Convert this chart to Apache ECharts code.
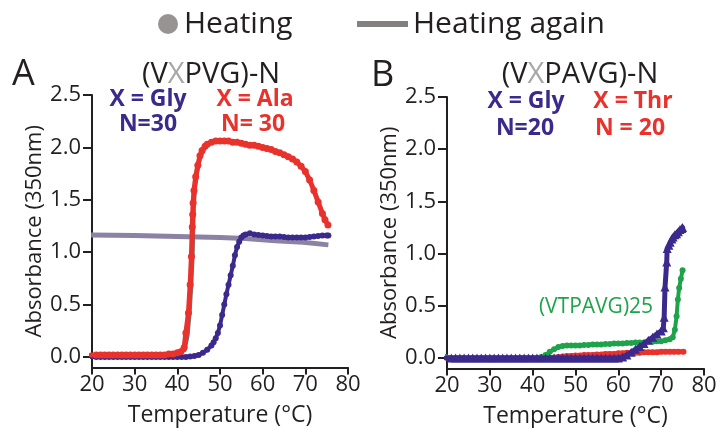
<!DOCTYPE html>
<html>
<head>
<meta charset="utf-8">
<script src="https://cdn.jsdelivr.net/npm/echarts@6/dist/echarts.min.js"></script>
<style>
  html, body { margin: 0; padding: 0; background: #ffffff; }
  #chart { width: 721px; height: 428px; }
</style>
</head>
<body>
<div id="chart"></div>
<script>
// Turbidity (absorbance at 350 nm) versus temperature, [°C, A350] pairs.

// Panel A: (VXPVG)-N
const alaN30Heating = [
  [19.8,0.02],[21,0.02],[22,0.02],[23,0.02],[24,0.02],[25,0.02],[26,0.02],[27,0.02],[28,0.02],[29,0.02],
  [30,0.02],[31,0.02],[32,0.02],[33,0.02],[34,0.02],[35,0.02],[36,0.02],[37,0.02],[38,0.03],[39,0.03],
  [40,0.04],[40.8,0.05],[41.6,0.09],[42.0,0.23],[42.6,0.42],[43.0,0.69],[43.3,0.96],[43.5,1.24],[43.6,1.36],
  [43.7,1.47],[43.9,1.59],[44.3,1.72],[44.8,1.83],[45.3,1.92],[45.8,1.97],[46.5,2.01],[47,2.03],[48,2.05],
  [49,2.06],[50,2.06],[51,2.06],[52,2.06],[53,2.05],[54,2.05],[55,2.04],[56,2.03],[57,2.02],[58,2.02],
  [59,2.01],[60,2.0],[61,1.99],[62,1.98],[63,1.96],[64,1.95],[65,1.93],[66,1.91],[67,1.89],[68,1.86],
  [69,1.82],[70,1.77],[71,1.69],[72,1.59],[73,1.48],[74,1.37],[74.6,1.31],[75.3,1.26]
];
const alaN30Again = [
  [19.8,0.02],[40,0.03],[41.8,0.06],[42.5,0.2],[43.0,0.42],[43.4,0.69],[43.7,0.96],[43.85,1.24],[44.0,1.45],
  [44.3,1.62],[44.8,1.77],[45.4,1.89],[46.2,1.97],[47.2,2.03],[49,2.06],[52,2.06],[56,2.03],[60,2.0],
  [64,1.95],[67,1.89],[70,1.77],[72,1.59],[74,1.37],[75.3,1.26]
];
const glyN30Heating = [
  [19.8,0.0],[21,0.0],[22,0.0],[23,0.0],[24,0.0],[25,0.0],[26,0.0],[27,0.0],[28,0.0],[29,0.0],
  [30,0.0],[31,0.0],[32,0.0],[33,0.0],[34,0.0],[35,0.0],[36,0.0],[37,0.0],[38,0.0],[39,0.0],
  [40,0.0],[41,0.0],[42,0.0],[43,0.005],[44,0.01],[45,0.02],[46,0.04],[47,0.07],[48,0.11],[48.5,0.14],
  [49,0.18],[49.5,0.23],[50,0.3],[50.5,0.4],[51,0.5],[51.5,0.6],[52,0.69],[52.5,0.78],[53,0.87],
  [53.5,0.97],[54,1.05],[54.5,1.1],[55,1.14],[55.5,1.16],[56,1.17],[57,1.18],[58,1.17],[59,1.165],
  [60,1.16],[61,1.155],[62,1.15],[63,1.15],[64,1.15],[65,1.145],[66,1.14],[67,1.14],[68,1.14],[69,1.14],
  [70,1.14],[71,1.145],[72,1.15],[73,1.155],[74,1.16],[75,1.16],[75.4,1.16]
];
const glyN30Again = [
  [19.8,1.165],[30,1.16],[40,1.15],[50,1.14],[56,1.13],[63,1.11],[69.5,1.095],[75.4,1.07]
];

// Panel B: (VXPAVG)-N
const thrN20Heating = [
  [19.8,0.0],[21,0.0],[22,0.0],[23,0.0],[24,0.0],[25,0.0],[26,0.0],[27,0.0],[28,0.0],[29,0.0],
  [30,0.0],[31,0.0],[32,0.0],[33,0.0],[34,0.0],[35,0.0],[36,0.0],[37,0.0],[38,0.0],[39,0.0],
  [40,0.0],[41,0.0],[42,0.0],[43,0.0],[44,0.0],[45,0.005],[46,0.01],[47,0.015],[48,0.02],[49,0.02],
  [50,0.025],[51,0.025],[52,0.03],[53,0.03],[54,0.03],[55,0.035],[56,0.035],[57,0.04],[58,0.04],[59,0.04],
  [60,0.045],[61,0.045],[62,0.05],[63,0.05],[64,0.05],[65,0.05],[66,0.055],[67,0.055],[68,0.055],[69,0.055],
  [70,0.06],[71,0.06],[72,0.06],[73,0.06],[74,0.06],[75.2,0.06]
];
const vtpavg25Heating = [
  [19.6,0.02],[21,0.0],[22,0.0],[23,0.0],[24,0.0],[25,0.0],[26,0.0],[27,0.0],[28,0.0],[29,0.0],
  [30,0.0],[31,0.0],[32,0.0],[33,0.0],[34,0.0],[35,0.0],[36,0.0],[37,0.0],[38,0.0],[39,0.0],
  [40,0.0],[41,0.0],[42,0.01],[43,0.03],[44,0.06],[45,0.085],[46,0.105],[47,0.115],[48,0.12],[49,0.12],
  [50,0.12],[51,0.12],[52,0.125],[53,0.125],[54,0.13],[55,0.13],[56,0.13],[57,0.135],[58,0.135],[59,0.14],
  [60,0.14],[61,0.14],[62,0.145],[63,0.145],[64,0.15],[65,0.15],[66,0.15],[67,0.155],[68,0.155],[69,0.16],
  [70,0.16],[71,0.17],[72,0.18],[72.7,0.2],[73.2,0.27],[73.6,0.4],[73.9,0.56],[74.2,0.67],[74.6,0.76],[75.0,0.84]
];
const glyN20Heating = [
  [19.8,0.0],[21,0.0],[22,0.0],[23,0.0],[24,0.0],[25,0.0],[26,0.0],[27,0.0],[28,0.0],[29,0.0],
  [30,0.0],[31,0.0],[32,0.0],[33,0.0],[34,0.0],[35,0.0],[36,0.0],[37,0.0],[38,0.0],[39,0.0],
  [40,0.0],[41,0.0],[42,0.0],[43,0.0],[44,0.0],[45,0.0],[46,0.0],[47,0.0],[48,0.0],[49,0.0],
  [50,0.0],[51,0.0],[52,0.0],[53,0.0],[54,0.0],[55,0.0],[56,0.0],[57,0.0],[58,0.0],[59,0.0],
  [60,0.0],[61,0.01],[62,0.03],[63,0.055],[64,0.085],[65,0.11],[66,0.14],[67,0.17],[68,0.2],[69,0.23],
  [70,0.26],[70.5,0.29],[70.7,0.39],[70.9,0.68],[71.3,0.92],[71.4,1.05],[71.8,1.08],[72.1,1.11],[72.5,1.14],
  [72.8,1.16],[73.2,1.18],[73.6,1.19],[74.0,1.21],[74.4,1.23],[74.8,1.24],[75.0,1.25]
];

// Axis ticks
const tempTicks = { min: 20, max: 80, step: 10 };
const absTicks = [0, 0.5, 1.0, 1.5, 2.0, 2.5];

const FONT = 'Open Sans';
const INK = '#231f20';
const PURPLE = '#3b2a8c';
const RED = '#e8322b';
const GREEN = '#1fa34a';

function xAxisFor(gridIndex) {
  return {
    type: 'value', gridIndex,
    min: tempTicks.min, max: tempTicks.max, interval: tempTicks.step,
    name: 'Temperature (°C)', nameLocation: 'middle', nameGap: 36,
    nameTextStyle: { fontFamily: FONT, fontSize: 23, color: INK },
    axisLine: { show: true, onZero: false, lineStyle: { color: INK, width: 2 } },
    axisTick: { show: true, length: 7, lineStyle: { color: INK, width: 2 } },
    axisLabel: { fontFamily: FONT, fontSize: 22, color: INK, margin: 6 },
    splitLine: { show: false }
  };
}
function yAxisFor(gridIndex) {
  return {
    type: 'value', gridIndex,
    min: -0.1, max: 2.5,
    name: 'Absorbance (350nm)', nameLocation: 'middle', nameGap: 42,
    nameTextStyle: { fontFamily: FONT, fontSize: 22, color: INK },
    axisLine: { show: true, onZero: false, lineStyle: { color: INK, width: 2 } },
    axisTick: { show: true, length: 9, customValues: absTicks, lineStyle: { color: INK, width: 2 } },
    axisLabel: { fontFamily: FONT, fontSize: 22, color: INK, margin: 11,
      customValues: absTicks, formatter: v => v.toFixed(1) },
    splitLine: { show: false }
  };
}

function trace(name, data, color, opts) {
  return Object.assign({
    name, type: 'line', data,
    xAxisIndex: 0, yAxisIndex: 0,
    symbol: 'circle', symbolSize: 6, showSymbol: true, showAllSymbol: true,
    itemStyle: { color },
    lineStyle: { color, width: 2, cap: 'round', join: 'round' },
    emphasis: { disabled: true },
    animation: false
  }, opts);
}

const option = {
  backgroundColor: '#ffffff',
  animation: false,
  grid: [
    { left: 92, right: 373, top: 95, bottom: 60.5, containLabel: false, outerBoundsMode: 'none' },
    { left: 447, right: 17, top: 97, bottom: 59.5, containLabel: false, outerBoundsMode: 'none' }
  ],
  xAxis: [xAxisFor(0), xAxisFor(1)],
  yAxis: [yAxisFor(0), yAxisFor(1)],
  legend: [
    { data: ['Heating'], left: 158, top: 9, padding: 0, icon: 'circle',
      itemWidth: 22, itemHeight: 20, selectedMode: false,
      textStyle: { fontFamily: FONT, fontSize: 30, color: INK, lineHeight: 30 } },
    { data: ['Heating again'], left: 357, top: 9, padding: 0, icon: 'rect',
      itemWidth: 51, itemHeight: 6, selectedMode: false,
      textStyle: { fontFamily: FONT, fontSize: 30, color: INK, lineHeight: 30 } }
  ],
  graphic: [
    { type: 'text', left: 12, top: 57, style: { text: 'A', font: '36px "Open Sans"', fill: INK } },
    { type: 'text', left: 371, top: 58, style: { text: 'B', font: '36px "Open Sans"', fill: INK } },
    { type: 'text', x: 211, y: 75, style: {
      text: '{a|(V}{g|X}{a|PVG)-N}', align: 'center', verticalAlign: 'middle',
      rich: { a: { font: '29px "Open Sans"', fill: INK }, g: { font: '29px "Open Sans"', fill: '#a7a7a7' } } } },
    { type: 'text', x: 580, y: 75, style: {
      text: '{a|(V}{g|X}{a|PAVG)-N}', align: 'center', verticalAlign: 'middle',
      rich: { a: { font: '29px "Open Sans"', fill: INK }, g: { font: '29px "Open Sans"', fill: '#a7a7a7' } } } },
    { type: 'text', x: 148, y: 99, style: { text: 'X = Gly', align: 'center', verticalAlign: 'middle', font: 'bold 23px "Open Sans"', fill: PURPLE } },
    { type: 'text', x: 148, y: 124, style: { text: 'N=30', align: 'center', verticalAlign: 'middle', font: 'bold 23px "Open Sans"', fill: PURPLE } },
    { type: 'text', x: 255, y: 99, style: { text: 'X = Ala', align: 'center', verticalAlign: 'middle', font: 'bold 23px "Open Sans"', fill: RED } },
    { type: 'text', x: 253, y: 124, style: { text: 'N= 30', align: 'center', verticalAlign: 'middle', font: 'bold 23px "Open Sans"', fill: RED } },
    { type: 'text', x: 526, y: 101, style: { text: 'X = Gly', align: 'center', verticalAlign: 'middle', font: 'bold 23px "Open Sans"', fill: PURPLE } },
    { type: 'text', x: 525, y: 128, style: { text: 'N=20', align: 'center', verticalAlign: 'middle', font: 'bold 23px "Open Sans"', fill: PURPLE } },
    { type: 'text', x: 633, y: 101, style: { text: 'X = Thr', align: 'center', verticalAlign: 'middle', font: 'bold 23px "Open Sans"', fill: RED } },
    { type: 'text', x: 630, y: 128, style: { text: 'N = 20', align: 'center', verticalAlign: 'middle', font: 'bold 23px "Open Sans"', fill: RED } },
    { type: 'text', x: 596, y: 307, style: { text: '(VTPAVG)25', align: 'center', verticalAlign: 'middle', font: '21px "Open Sans"', fill: GREEN } }
  ],
  series: [
    // legend entries
    { name: 'Heating', type: 'scatter', data: [], itemStyle: { color: '#7d7878' } },
    { name: 'Heating again', type: 'line', data: [], symbol: 'none', itemStyle: { color: '#858080' },
      lineStyle: { color: '#858080', width: 6 } },

    // panel A
    trace('Gly N=30 (heating again)', glyN30Again, '#8c82a4', { symbol: 'none', lineStyle: { color: '#8c82a4', width: 5 }, z: 2 }),
    trace('Gly N=30', glyN30Heating, PURPLE, { symbolSize: 6, lineStyle: { color: PURPLE, width: 4, cap: 'round', join: 'round' }, z: 3 }),
    trace('Ala N=30 (heating again)', alaN30Again, '#7a6a64', { symbol: 'none', lineStyle: { color: '#7a6a64', width: 3 }, z: 4 }),
    trace('Ala N=30', alaN30Heating, RED, { symbolSize: 7, lineStyle: { color: RED, width: 5, cap: 'round', join: 'round' }, z: 5 }),

    // panel B
    trace('Thr N=20', thrN20Heating, RED, { xAxisIndex: 1, yAxisIndex: 1, symbolSize: 6, lineStyle: { color: RED, width: 5, cap: 'round', join: 'round' }, z: 3 }),
    trace('(VTPAVG)25', vtpavg25Heating, GREEN, { xAxisIndex: 1, yAxisIndex: 1, symbolSize: 6, lineStyle: { color: GREEN, width: 4, cap: 'round', join: 'round' }, z: 4 }),
    trace('Gly N=20', glyN20Heating, PURPLE, { xAxisIndex: 1, yAxisIndex: 1, symbol: 'triangle', symbolSize: 9, lineStyle: { color: PURPLE, width: 5, cap: 'round', join: 'round' }, z: 5 })
  ]
};

const chart = echarts.init(document.getElementById('chart'), null, { renderer: 'canvas' });
chart.setOption(option);
</script>
</body>
</html>
